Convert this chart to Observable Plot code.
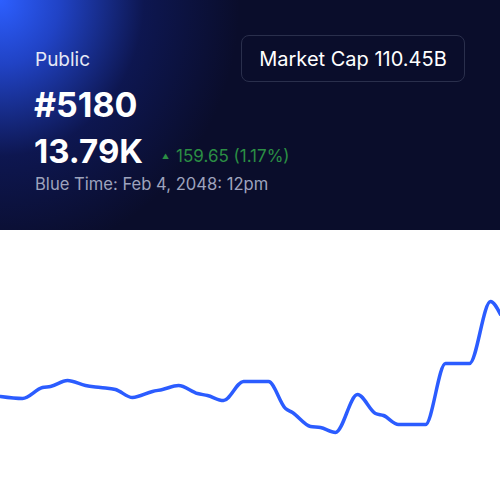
<!DOCTYPE html>
<html>
<head>
<meta charset="utf-8">
<script src="https://cdn.jsdelivr.net/npm/d3@7"></script>
<script src="https://cdn.jsdelivr.net/npm/@observablehq/plot@0.6"></script>
<style>
  html, body { margin: 0; padding: 0; background: #ffffff; }
  body { width: 500px; height: 500px; overflow: hidden; font-family: Inter, "Noto Sans", sans-serif; }
  #header {
    position: relative; width: 500px; height: 230px;
    background:
      radial-gradient(ellipse 240px 260px at 0px 0px, rgba(45,95,255,1) 0%, rgba(38,80,235,0.8) 25%, rgba(20,40,150,0.35) 60%, rgba(10,14,43,0) 100%),
      #0a0d2b;
    color: #fff;
  }
  .t { position: absolute; white-space: nowrap; line-height: 1; }
  #label { left: 35px; top: 50px; font-size: 19px; color: #e6e9f5; }
  #rank { left: 34px; top: 88px; font-size: 34px; font-weight: 700; color: #ffffff; }
  #price { left: 34px; top: 135px; font-size: 33px; font-weight: 700; color: #ffffff; }
  #change { left: 162px; top: 148px; font-size: 17px; color: #2b8f44; }
  #change .tri { font-size: 7px; vertical-align: 3px; margin-right: 7px; }
  #time { left: 35px; top: 176px; font-size: 16.6px; color: #9ea3bd; }
  #cap {
    position: absolute; left: 241px; top: 35px; width: 222px; height: 45px;
    border: 1px solid #2a2f4c; border-radius: 8px;
    display: flex; align-items: center; justify-content: center;
    font-size: 20px; color: #ffffff;
  }
  #chart { position: absolute; left: 0; top: 230px; width: 500px; height: 270px; }
</style>
</head>
<body>
<div id="header">
  <div class="t" id="label">Public</div>
  <div class="t" id="rank">#5180</div>
  <div class="t" id="price">13.79K</div>
  <div class="t" id="change"><span class="tri">▲</span>159.65 (1.17%)</div>
  <div class="t" id="time">Blue Time: Feb 4, 2048: 12pm</div>
  <div id="cap">Market Cap 110.45B</div>
</div>
<div id="chart"></div>
<script>
// time steps (x) and price-like values (y)
const steps  = [0, 4.4, 8.4, 10, 13.4, 17, 20, 23, 26.4, 30.4, 32.4, 35.6, 39.4, 41.4, 44.6, 48.6, 50, 53.6, 57, 58.4, 62, 64, 67, 71.4, 75, 76.6, 79.6, 85, 89, 93.8, 98, 100];
const values = [104, 102, 113, 114, 120, 115, 113, 111, 103, 109, 111, 115, 107, 105, 100, 119, 119, 119, 92, 88, 74, 73, 68, 106, 87, 85, 76, 76, 137, 137, 199, 186];

const data = steps.map((s, i) => ({ step: s, value: values[i] }));

const chart = Plot.plot({
  width: 500,
  height: 270,
  marginTop: 0, marginBottom: 0, marginLeft: 0, marginRight: 0,
  x: { domain: [0, 100], axis: null },
  y: { domain: [0, 270], axis: null },
  style: { background: "transparent", overflow: "visible" },
  marks: [
    Plot.line(data, { x: "step", y: "value", curve: "monotone-x", stroke: "#2b5cff", strokeWidth: 3.5 })
  ]
});
document.getElementById("chart").appendChild(chart);
</script>
</body>
</html>
